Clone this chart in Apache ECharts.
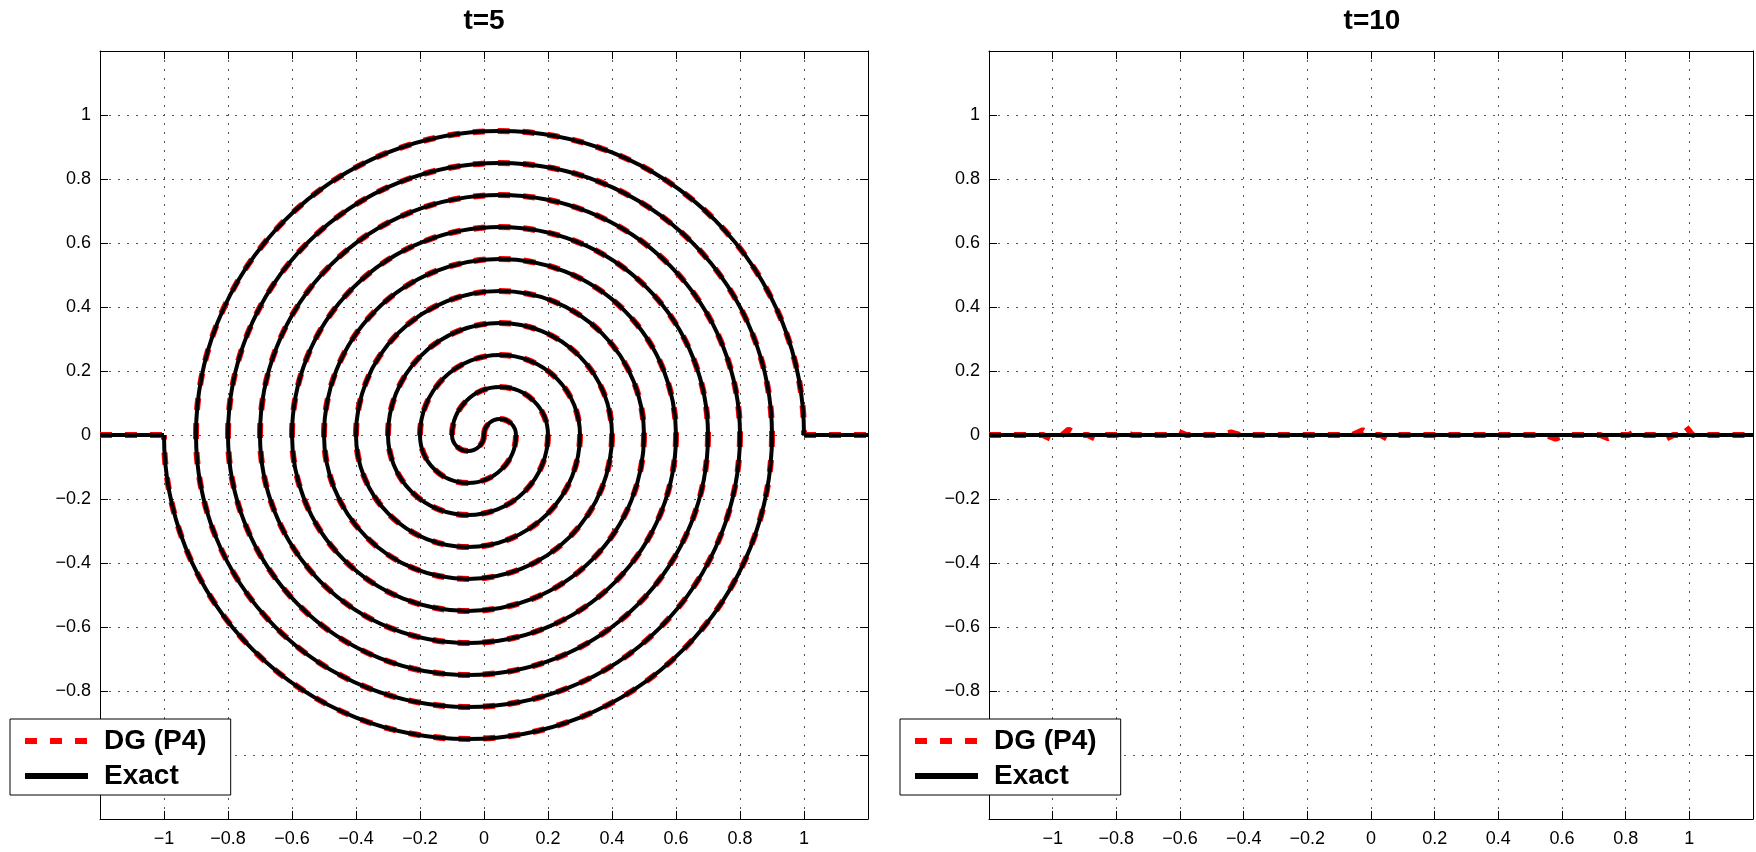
<!DOCTYPE html>
<html><head><meta charset="utf-8">
<script src="https://cdn.jsdelivr.net/npm/echarts@6/dist/echarts.min.js"></script>
<style>html,body{margin:0;padding:0;background:#fff}#c{width:1756px;height:852px}</style>
</head><body><div id="c"></div>
<script>
const FONT = "'Liberation Sans', Arial, Helvetica, sans-serif";
const panelTitles = ['t=5', 't=10'];
const seriesNames = ['DG (P4)', 'Exact'];
const tickValues = [-1, -0.8, -0.6, -0.4, -0.2, 0, 0.2, 0.4, 0.6, 0.8, 1];
const tickLabels = ['\u22121', '\u22120.8', '\u22120.6', '\u22120.4', '\u22120.2', '0', '0.2', '0.4', '0.6', '0.8', '1'];

// t=5 : spiral made of semicircles (upper halves centred at +0.05, lower halves at -0.05)
const spiralRadii = [0.95, 0.85, 0.75, 0.65, 0.55, 0.45, 0.35, 0.25, 0.15, 0.05];
const topArcCenterX = 0.05;
const bottomArcCenterX = -0.05;
const leftTailX = [-1.2, -1];
const leftTailY = [0, 0];
const rightTailX = [1, 1.2];
const rightTailY = [0, 0];

// t=10
const exact10X = [-1.2, 1.2];
const exact10Y = [0, 0];
const dg10X = [-1.2, -1.03, -1.0, -0.97, -0.95, -0.92, -0.89, -0.86, -0.83, -0.8, -0.78, -0.75, -0.63, -0.605, -0.58, -0.47, -0.44, -0.41, -0.06, -0.026, 0.0, 0.03, 0.053, 0.08, 0.55, 0.58, 0.61, 0.72, 0.745, 0.77, 0.81, 0.833, 0.86, 0.9, 0.92, 0.95, 0.975, 0.99, 1.01, 1.2];
const dg10Y = [0, 0, -0.015, 0, 0.017, 0, 0, -0.015, 0, 0, 0.01, 0, 0, 0.01, 0, 0, 0.008, 0, 0, 0.015, 0, 0, -0.013, 0, 0, -0.012, 0, 0, -0.01, 0, 0, 0.013, 0, 0, -0.015, 0, 0, 0.025, 0, 0];

const zip = (xs, ys) => xs.map((x, i) => [x, ys[i]]);
const arcData = spiralRadii.map(r => [topArcCenterX, r, 1])
  .concat(spiralRadii.map(r => [bottomArcCenterX, r, -1]));

const RED = '#ff0000', BLACK = '#000000';
const DASH = [12, 13];
const redStyle = { color: RED, width: 6, type: DASH, cap: 'butt' };
const blackStyle = { color: BLACK, width: 4, type: 'solid', cap: 'butt' };

function fmt(v) {
  const i = tickValues.findIndex(t => Math.abs(t - v) < 1e-6);
  return i < 0 ? '' : tickLabels[i];
}

function makeArcRenderer(stroke, width, dash) {
  return function (params, api) {
    const c = api.coord([api.value(0), 0]);
    const r = api.size([api.value(1), 0])[0];
    const top = api.value(2) > 0;
    return {
      type: 'arc',
      shape: { cx: c[0], cy: c[1], r: r,
        startAngle: top ? Math.PI : 0, endAngle: top ? 2 * Math.PI : Math.PI, clockwise: true },
      style: { fill: 'none', stroke: stroke, lineWidth: width, lineDash: dash, lineCap: 'butt' }
    };
  };
}

const grids = [
  { left: 100, top: 51, width: 768, height: 768 },
  { left: 989, top: 51, width: 766, height: 768 }
];

const xAxes = [], yAxes = [];
grids.forEach((g, gi) => {
  const common = {
    type: 'value', min: -1.2, max: 1.2, interval: 0.2, gridIndex: gi,
    axisLine: { show: true, onZero: false, lineStyle: { color: '#000', width: 1 } },
    axisTick: { show: true, inside: true, length: 8, lineStyle: { color: '#000', width: 1 } }
  };
  xAxes.push(Object.assign({}, common, {
    position: 'bottom',
    axisLabel: { show: true, formatter: fmt, color: '#000', fontSize: 18, fontFamily: FONT, margin: 11 },
    splitLine: { show: true, lineStyle: { color: '#555', width: 1, type: [2, 7] } }
  }));
  xAxes.push(Object.assign({}, common, {
    position: 'top', axisLabel: { show: false }, splitLine: { show: false }
  }));
  yAxes.push(Object.assign({}, common, {
    position: 'left',
    axisLabel: { show: true, formatter: fmt, color: '#000', fontSize: 18, fontFamily: FONT, margin: 9 },
    splitLine: { show: true, lineStyle: { color: '#555', width: 1, type: [2, 7] } }
  }));
  yAxes.push(Object.assign({}, common, {
    position: 'right', axisLabel: { show: false }, splitLine: { show: false }
  }));
});

const legendBase = {
  orient: 'vertical', top: 719,
  data: seriesNames,
  itemWidth: 63, itemHeight: 14, itemGap: 7,
  padding: [8, 24, 5, 12],
  backgroundColor: '#fff', borderColor: '#000', borderWidth: 1, borderRadius: 0,
  lineStyle: { width: 6 },
  itemStyle: { opacity: 0 },
  selectedMode: false,
  formatter: name => '{s| }{t|' + name + '}',
  textStyle: {
    color: '#000',
    rich: {
      s: { width: 11, lineHeight: 32, fontSize: 28 },
      t: { fontSize: 28, fontWeight: 'bold', fontFamily: FONT, color: '#000', lineHeight: 32 }
    }
  }
};

const option = {
  animation: false,
  backgroundColor: '#fff',
  title: panelTitles.map((t, i) => ({
    text: t, left: grids[i].left + grids[i].width / 2, top: 7, textAlign: 'center', padding: 0,
    textStyle: { fontSize: 28, fontWeight: 'bold', fontFamily: FONT, color: '#000' }
  })),
  legend: [
    Object.assign({}, legendBase, { left: 10 }),
    Object.assign({}, legendBase, { left: 900 })
  ],
  grid: grids,
  xAxis: xAxes,
  yAxis: yAxes,
  series: [
    { name: seriesNames[0], type: 'line', xAxisIndex: 0, yAxisIndex: 0, symbol: 'none', z: 2,
      data: zip(leftTailX, leftTailY), lineStyle: redStyle },
    { name: seriesNames[1], type: 'line', xAxisIndex: 0, yAxisIndex: 0, symbol: 'none', z: 3,
      data: zip(leftTailX, leftTailY), lineStyle: blackStyle },
    { name: seriesNames[0], type: 'line', xAxisIndex: 0, yAxisIndex: 0, symbol: 'none', z: 2,
      data: zip(rightTailX, rightTailY), lineStyle: redStyle },
    { name: seriesNames[1], type: 'line', xAxisIndex: 0, yAxisIndex: 0, symbol: 'none', z: 3,
      data: zip(rightTailX, rightTailY), lineStyle: blackStyle },
    { name: seriesNames[0], type: 'custom', xAxisIndex: 0, yAxisIndex: 0, z: 2, clip: true,
      dimensions: ['cx', 'r', 'side'], encode: { x: 0, y: 1 },
      renderItem: makeArcRenderer(RED, 6, DASH), data: arcData },
    { name: seriesNames[1], type: 'custom', xAxisIndex: 0, yAxisIndex: 0, z: 3, clip: true,
      dimensions: ['cx', 'r', 'side'], encode: { x: 0, y: 1 },
      renderItem: makeArcRenderer(BLACK, 4, null), data: arcData },
    { name: seriesNames[0], type: 'line', xAxisIndex: 2, yAxisIndex: 2, symbol: 'none', z: 2,
      data: zip(dg10X, dg10Y), lineStyle: redStyle },
    { name: seriesNames[1], type: 'line', xAxisIndex: 2, yAxisIndex: 2, symbol: 'none', z: 3,
      data: zip(exact10X, exact10Y), lineStyle: blackStyle }
  ]
};

const chart = echarts.init(document.getElementById('c'), null, { renderer: 'canvas' });
chart.setOption(option);
</script>
</body></html>
